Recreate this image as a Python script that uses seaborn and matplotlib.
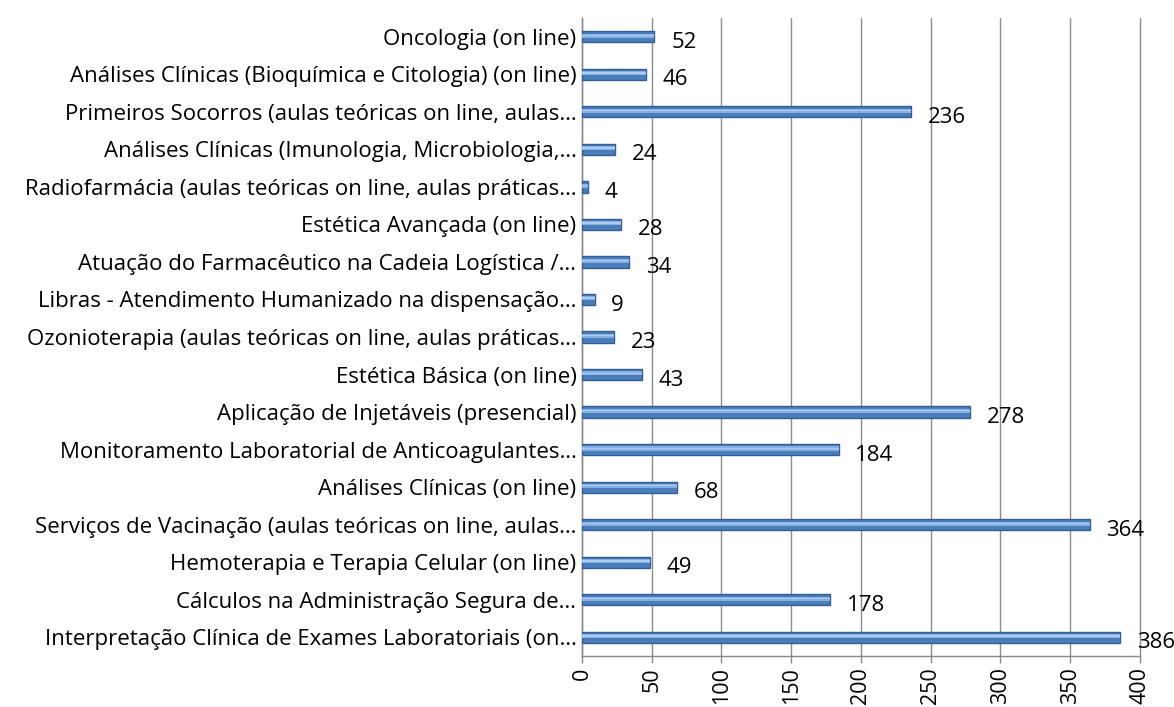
import matplotlib
matplotlib.use("Agg")
import matplotlib.pyplot as plt
import seaborn as sns
import pandas as pd
import numpy as np

categories = [
    "Oncologia (on line)",
    "Análises Clínicas (Bioquímica e Citologia) (on line)",
    "Primeiros Socorros (aulas teóricas on line, aulas…",
    "Análises Clínicas (Imunologia, Microbiologia,…",
    "Radiofarmácia (aulas teóricas on line, aulas práticas…",
    "Estética Avançada (on line)",
    "Atuação do Farmacêutico na Cadeia Logística /…",
    "Libras - Atendimento Humanizado na dispensação…",
    "Ozonioterapia (aulas teóricas on line, aulas práticas…",
    "Estética Básica (on line)",
    "Aplicação de Injetáveis (presencial)",
    "Monitoramento Laboratorial de Anticoagulantes…",
    "Análises Clínicas (on line)",
    "Serviços de Vacinação (aulas teóricas on line, aulas…",
    "Hemoterapia e Terapia Celular (on line)",
    "Cálculos na Administração Segura de…",
    "Interpretação Clínica de Exames Laboratoriais (on…",
]
values = [52, 46, 236, 24, 4, 28, 34, 9, 23, 43, 278, 184, 68, 364, 49, 178, 386]
x_ticks = [0, 50, 100, 150, 200, 250, 300, 350, 400]

df = pd.DataFrame({"curso": categories, "valor": values})

sns.set_theme(style="white")
plt.rcParams["font.family"] = ["Open Sans", "DejaVu Sans"]

FS = 16

fig = plt.figure(figsize=(11.74, 7.07), dpi=100)
ax = fig.add_axes([0.4957, 0.0721, 0.4753, 0.9024])

sns.barplot(data=df, x="valor", y="curso", orient="h", color="#4A7EBB",
            width=0.30, edgecolor="#345F94", linewidth=1.0, saturation=1, ax=ax, zorder=3)

# lighter highlight stripes to imitate the cylinder shading
for p in ax.patches[:]:
    y0 = p.get_y()
    h = p.get_height()
    w = p.get_width()
    ax.barh(y0 + h * 0.40, w, height=h * 0.36, left=0,
            color="#86B0E3", linewidth=0, zorder=4, align="center")
    ax.barh(y0 + h * 0.38, w, height=h * 0.12, left=0,
            color="#AFCCF0", linewidth=0, zorder=5, align="center")

ax.set_xlim(0, 400)
ax.set_ylim(len(categories) - 0.5, -0.5)
ax.set_xticks(x_ticks)
ax.set_xticklabels([str(t) for t in x_ticks], rotation=90, fontsize=FS - 0.5, color="black")
ax.set_xlabel("")
ax.set_ylabel("")

ax.set_yticks(range(len(categories)))
ax.set_yticklabels(categories, fontsize=FS, color="black")
ax.tick_params(axis="y", length=0, pad=4)
ax.set_yticks(np.arange(-0.5, len(categories), 1), minor=True)
ax.tick_params(axis="y", which="minor", length=5, width=1, color="#888888", direction="out")
ax.tick_params(axis="x", length=5, width=1, color="#888888", direction="out", bottom=True, pad=3)

ax.grid(axis="x", color="#8C8C8C", linewidth=1.0, zorder=0)
for gl in ax.get_xgridlines():
    gl.set_clip_on(False)
ax.grid(axis="y", visible=False)
for s in ["top", "right"]:
    ax.spines[s].set_visible(False)
for s in ["left", "bottom"]:
    ax.spines[s].set_color("#888888")
    ax.spines[s].set_linewidth(1.0)

for i, v in enumerate(values):
    ax.annotate(str(v), xy=(v, i), xytext=(12, -4), textcoords="offset points",
                ha="left", va="center", fontsize=FS, color="black")

fig.savefig("out.png", dpi=100)
